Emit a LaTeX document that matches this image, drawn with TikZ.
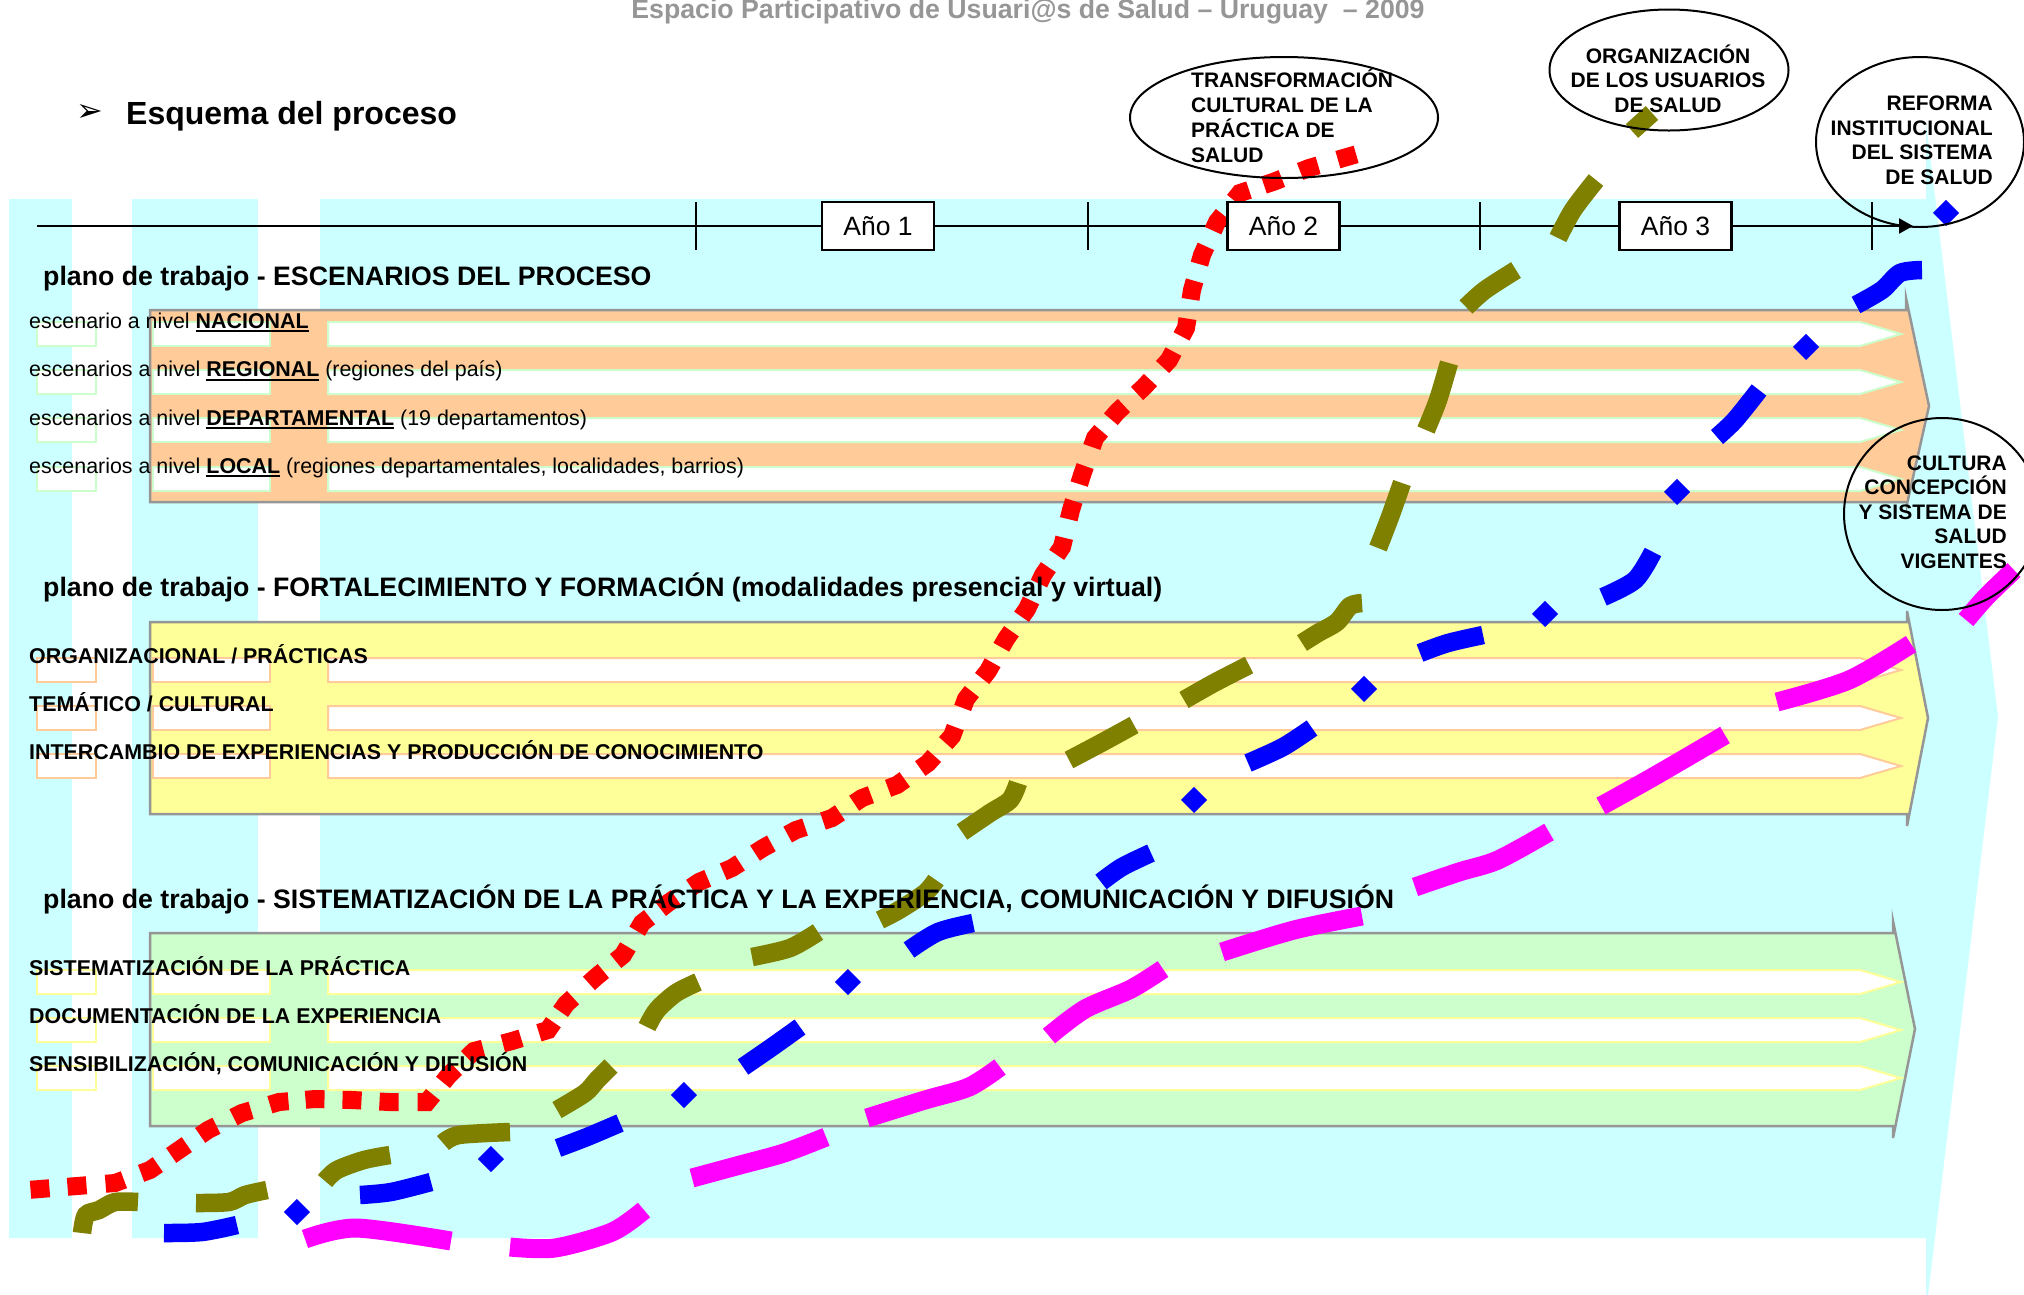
\documentclass[tikz,border=0pt]{standalone}
\usepackage{fontspec}
\setmainfont{Liberation Sans}
\newfontfamily\djv{DejaVu Sans}
\usetikzlibrary{calc,arrows.meta,shapes.geometric}
\definecolor{cyanbg}{HTML}{CCFFFF}
\definecolor{bandor}{HTML}{FFCC99}
\definecolor{bandye}{HTML}{FFFF99}
\definecolor{bandgr}{HTML}{CCFFCC}
\definecolor{bandline}{HTML}{969696}
\definecolor{titlegray}{HTML}{969696}
\definecolor{olivec}{HTML}{808000}
\definecolor{bluec}{HTML}{0000FF}
\definecolor{redc}{HTML}{FF0000}
\definecolor{magc}{HTML}{FF00FF}
\newsavebox\ulbox
\newcommand\ulw[1]{\sbox\ulbox{#1}\rlap{\rule[-4pt]{\wd\ulbox}{2pt}}\usebox\ulbox}
\tikzset{
  bandshape/.style={fill=#1, draw=bandline, line width=2.5pt},
  stripebox/.style={draw=#1, fill=white, line width=2pt},
  yearbox/.style={draw, fill=white, line width=2.2pt, minimum width=112pt, minimum height=48pt, inner sep=0pt, font=\fontsize{26.5}{30}\selectfont},
  goal/.style={ellipse, draw, line width=2pt, inner sep=0pt},
  titletxt/.style={anchor=base, inner sep=0pt, text=titlegray, font=\bfseries\fontsize{26.7}{30}\selectfont},
  esq/.style={anchor=base west, inner sep=0pt, font=\bfseries\fontsize{32}{36}\selectfont},
  hdr/.style={anchor=base west, inner sep=0pt, font=\bfseries\fontsize{26.7}{30}\selectfont},
  lbl/.style={anchor=base west, inner sep=0pt, font=\fontsize{21.4}{25}\selectfont},
  lblb/.style={anchor=base west, inner sep=0pt, font=\bfseries\fontsize{21.4}{25}\selectfont},
  elt/.style={inner sep=0pt, font=\bfseries\fontsize{21}{25}\selectfont},
  reddash/.style={draw=redc, line width=18pt},
  olivedash/.style={draw=olivec, line width=18.5pt},
  bluedash/.style={draw=bluec, line width=18.5pt},
  magdash/.style={draw=magc, line width=19pt},
}
\begin{document}
\begin{tikzpicture}[x=1pt,y=-1pt]
\useasboundingbox (0,0) rectangle (2024,1294);
\clip (0,0) rectangle (2024,1294);
% background big arrow
\fill[cyanbg] (9,199) -- (1926,199) -- (1926,122) -- (1998,717) -- (1926,1312) -- (1926,1238) -- (9,1238) -- cycle;
\fill[white] (72,199) rectangle (132,1238);
\fill[white] (258,199) rectangle (320,1238);
% bands
\draw[bandshape=bandor] (150,310) -- (1906,310) -- (1906,298) -- (1929,406) -- (1907,504) -- (1907,502) -- (150,502) -- cycle;
\draw[bandshape=bandye] (150,622) -- (1907,622) -- (1907,611) -- (1928,718) -- (1907,826) -- (1907,814) -- (150,814) -- cycle;
\draw[bandshape=bandgr] (150,933) -- (1893,933) -- (1893,921) -- (1915,1029) -- (1893,1138) -- (1893,1126) -- (150,1126) -- cycle;
\foreach \t/\c in {322/bandgr,370/bandgr,418/bandgr,467/bandgr,658/bandor,706/bandor,754/bandor,970/bandye,1018/bandye,1066/bandye}{
  \draw[stripebox=\c] (37,\t) rectangle (96,\t+24);
  \draw[stripebox=\c] (153,\t) rectangle (270,\t+24);
  \draw[stripebox=\c] (328,\t) -- (1860,\t) -- (1901,\t+12) -- (1860,\t+24) -- (328,\t+24) -- cycle;
}
% timeline
\coordinate (tlA) at (37,226);
\coordinate (tlB) at (1913,226);
\draw[line width=2.2pt, -{Triangle[length=14pt,width=15pt]}] (tlA) -- (tlB);
\foreach \x in {696,1088,1480,1872} \draw[line width=2.2pt] (\x,202) -- (\x,250);
% red dashed line
\foreach \x/\y [count=\i] in {40/1189,77/1186,115/1183,150/1170,179/1150,208/1130,242/1113,279/1102,315/1099,352/1100,389/1102,427/1102,449/1075,474/1051,512/1041,548/1030,566/1004,596/977,623/955,642/923,668/903,699/882,732/868,763/848,796/830,832/818,862/798,897/785,928/763,952/736,966/699,988/671,1006/639,1027/609,1043/575,1062/547,1071/510,1082/475,1095/438,1117/412,1144/387,1169/360,1186/328,1192/290,1202/255,1217/222,1240/193,1273/182,1309/168,1347/157}
  \coordinate (R\i) at (\x,\y);
\foreach \i in {2,...,49}{
  \pgfmathtruncatemacro\ia{\i-1}
  \pgfmathtruncatemacro\ib{\i+1}
  \draw[reddash] ($(R\i)!9.5pt!(R\ia)$) -- (R\i) -- ($(R\i)!9.5pt!(R\ib)$);
}
\draw[reddash] ($(R1)!-9.5pt!(R2)$) -- ($(R1)!9.5pt!(R2)$);
\draw[reddash] ($(R50)!9.5pt!(R49)$) -- ($(R50)!-9.5pt!(R49)$);
% olive dashed line
\draw[olivedash] plot[smooth] coordinates {(82,1233) (86,1215) (99,1210) (115,1202) (138,1202)};
\draw[olivedash] plot[smooth] coordinates {(196,1203) (229,1202) (245,1195) (267,1190)};
\draw[olivedash] plot[smooth] coordinates {(325,1181) (337,1170) (364,1160) (390,1155)};
\draw[olivedash] plot[smooth] coordinates {(443,1143) (459,1135) (510,1132)};
\draw[olivedash] plot[smooth] coordinates {(557,1110) (585,1093) (597,1080) (611,1066)};
\draw[olivedash] plot[smooth] coordinates {(647,1027) (657,1010) (676,993) (698,982)};
\draw[olivedash] plot[smooth] coordinates {(752,957) (790,948) (818,932)};
\draw[olivedash] plot[smooth] coordinates {(880,920) (899,910) (925,893) (936,880)};
\draw[olivedash] plot[smooth] coordinates {(962,832) (990,813) (1010,800) (1018,783)};
\draw[olivedash] plot[smooth] coordinates {(1069,760) (1103,742) (1134,725)};
\draw[olivedash] plot[smooth] coordinates {(1184,700) (1214,683) (1249,665)};
\draw[olivedash] plot[smooth] coordinates {(1302,643) (1318,633) (1337,622) (1350,606) (1362,603)};
\draw[olivedash] plot[smooth] coordinates {(1378,548) (1390,517) (1402,483)};
\draw[olivedash] plot[smooth] coordinates {(1426,430) (1438,400) (1449,363)};
\draw[olivedash] plot[smooth] coordinates {(1466,307) (1485,290) (1516,270)};
\draw[olivedash] plot[smooth] coordinates {(1558,238) (1573,210) (1596,180)};
\draw[olivedash] plot[smooth] coordinates {(1632,131) (1652,113)};
% blue dash-dot line
\draw[bluedash] plot[smooth] coordinates {(164,1233) (202,1232) (237,1225)};
\draw[bluedash] plot[smooth] coordinates {(360,1195) (391,1192) (431,1182)};
\draw[bluedash] plot[smooth] coordinates {(558,1148) (587,1137) (620,1123)};
\draw[bluedash] plot[smooth] coordinates {(743,1067) (772,1047) (800,1027)};
\draw[bluedash] plot[smooth] coordinates {(909,950) (938,932) (973,923)};
\draw[bluedash] plot[smooth] coordinates {(1101,882) (1122,867) (1151,853)};
\draw[bluedash] plot[smooth] coordinates {(1248,763) (1283,747) (1312,728)};
\draw[bluedash] plot[smooth] coordinates {(1420,653) (1448,643) (1483,635)};
\draw[bluedash] plot[smooth] coordinates {(1603,597) (1635,580) (1653,552)};
\draw[bluedash] plot[smooth] coordinates {(1717,437) (1735,420) (1759,390)};
\draw[bluedash] plot[smooth] coordinates {(1856,305) (1882,290) (1900,273) (1922,270)};
\foreach \x/\y in {297/1212,491/1159,684/1095,848/982,1194/800,1364/689,1545/614,1677/492,1806/347,1946/213}
  \draw[bluedash] (\x-6.5,\y+6.5) -- (\x+6.5,\y-6.5);
% magenta dashed line
\draw[magdash] plot[smooth] coordinates {(305,1239) (356,1228) (451,1241)};
\draw[magdash] plot[smooth] coordinates {(510,1247) (555,1248) (612,1232) (644,1210)};
\draw[magdash] plot[smooth] coordinates {(692,1178) (740,1165) (784,1153) (826,1137)};
\draw[magdash] plot[smooth] coordinates {(867,1118) (925,1100) (969,1087) (1000,1067)};
\draw[magdash] plot[smooth] coordinates {(1049,1036) (1085,1009) (1131,989) (1163,969)};
\draw[magdash] plot[smooth] coordinates {(1222,952) (1294,930) (1362,916)};
\draw[magdash] plot[smooth] coordinates {(1415,887) (1459,872) (1498,860) (1549,832)};
\draw[magdash] plot[smooth] coordinates {(1601,806) (1653,777) (1725,735)};
\draw[magdash] plot[smooth] coordinates {(1777,702) (1849,680) (1911,644)};
\draw[magdash] plot[smooth] coordinates {(1966,620) (1986,597) (2014,570)};
% year boxes
\node[yearbox] (a1) at (878,226) {Año 1};
\node[yearbox] (a2) at (1283.5,226) {Año 2};
\node[yearbox] (a3) at (1675.5,226) {Año 3};
% goal ellipses
\node[goal, minimum width=308pt, minimum height=121pt] (e1) at (1284,117.5) {};
\node[goal, minimum width=239pt, minimum height=121pt] (e2) at (1669,70) {};
\node[goal, minimum width=208pt, minimum height=170pt] (e3) at (1920,142) {};
\node[goal, minimum width=196pt, minimum height=192pt] (e4) at (1942,514) {};
% texts
\node[titletxt] (ttl) at (1028,18) {Espacio Participativo de Usuari@s de Salud – Uruguay \ – 2009};
\node[anchor=center, inner sep=0pt, font=\djv\fontsize{32}{34}\selectfont] (bul) at (90,113) {➢};
\node[esq] (esq) at (126,124) {Esquema del proceso};
\node[hdr] (h1) at (43,285) {plano de trabajo - ESCENARIOS DEL PROCESO};
\node[hdr] (h2) at (43,596) {plano de trabajo - FORTALECIMIENTO Y FORMACIÓN (modalidades presencial y virtual)};
\node[hdr] (h3) at (43,908) {plano de trabajo - SISTEMATIZACIÓN DE LA PRÁCTICA Y LA EXPERIENCIA, COMUNICACIÓN Y DIFUSIÓN};
\node[lbl] (o1) at (29,328) {escenario a nivel \ulw{\textbf{NACIONAL}}};
\node[lbl] (o2) at (29,376.5) {escenarios a nivel \ulw{\textbf{REGIONAL}} (regiones del país)};
\node[lbl] (o3) at (29,425) {escenarios a nivel \ulw{\textbf{DEPARTAMENTAL}} (19 departamentos)};
\node[lbl] (o4) at (29,473) {escenarios a nivel \ulw{\textbf{LOCAL}} (regiones departamentales, localidades, barrios)};
\node[lblb] (y1) at (29,663) {ORGANIZACIONAL / PRÁCTICAS};
\node[lblb] (y2) at (29,711) {TEMÁTICO / CULTURAL};
\node[lblb] (y3) at (29,759) {INTERCAMBIO DE EXPERIENCIAS Y PRODUCCIÓN DE CONOCIMIENTO};
\node[lblb] (g1) at (29,975) {SISTEMATIZACIÓN DE LA PRÁCTICA};
\node[lblb] (g2) at (29,1023) {DOCUMENTACIÓN DE LA EXPERIENCIA};
\node[lblb] (g3) at (29,1071) {SENSIBILIZACIÓN, COMUNICACIÓN Y DIFUSIÓN};
\node[elt, anchor=base west] (t1a) at (1191,87) {TRANSFORMACIÓN};
\node[elt, anchor=base west] (t1b) at (1191,112) {CULTURAL DE LA};
\node[elt, anchor=base west] (t1c) at (1191,137) {PRÁCTICA DE};
\node[elt, anchor=base west] (t1d) at (1191,162) {SALUD};
\node[elt, anchor=base] (t2a) at (1668,63) {ORGANIZACIÓN};
\node[elt, anchor=base] (t2b) at (1668,87) {DE LOS USUARIOS};
\node[elt, anchor=base] (t2c) at (1668,112) {DE SALUD};
\node[elt, anchor=base east] (t3a) at (1993,110) {REFORMA};
\node[elt, anchor=base east] (t3b) at (1993,135) {INSTITUCIONAL};
\node[elt, anchor=base east] (t3c) at (1993,159) {DEL SISTEMA};
\node[elt, anchor=base east] (t3d) at (1993,184) {DE SALUD};
\node[elt, anchor=base east] (t4a) at (2007,470) {CULTURA};
\node[elt, anchor=base east] (t4b) at (2007,494) {CONCEPCIÓN};
\node[elt, anchor=base east] (t4c) at (2007,519) {Y SISTEMA DE};
\node[elt, anchor=base east] (t4d) at (2007,543) {SALUD};
\node[elt, anchor=base east] (t4e) at (2007,568) {VIGENTES};
\end{tikzpicture}
\end{document}
